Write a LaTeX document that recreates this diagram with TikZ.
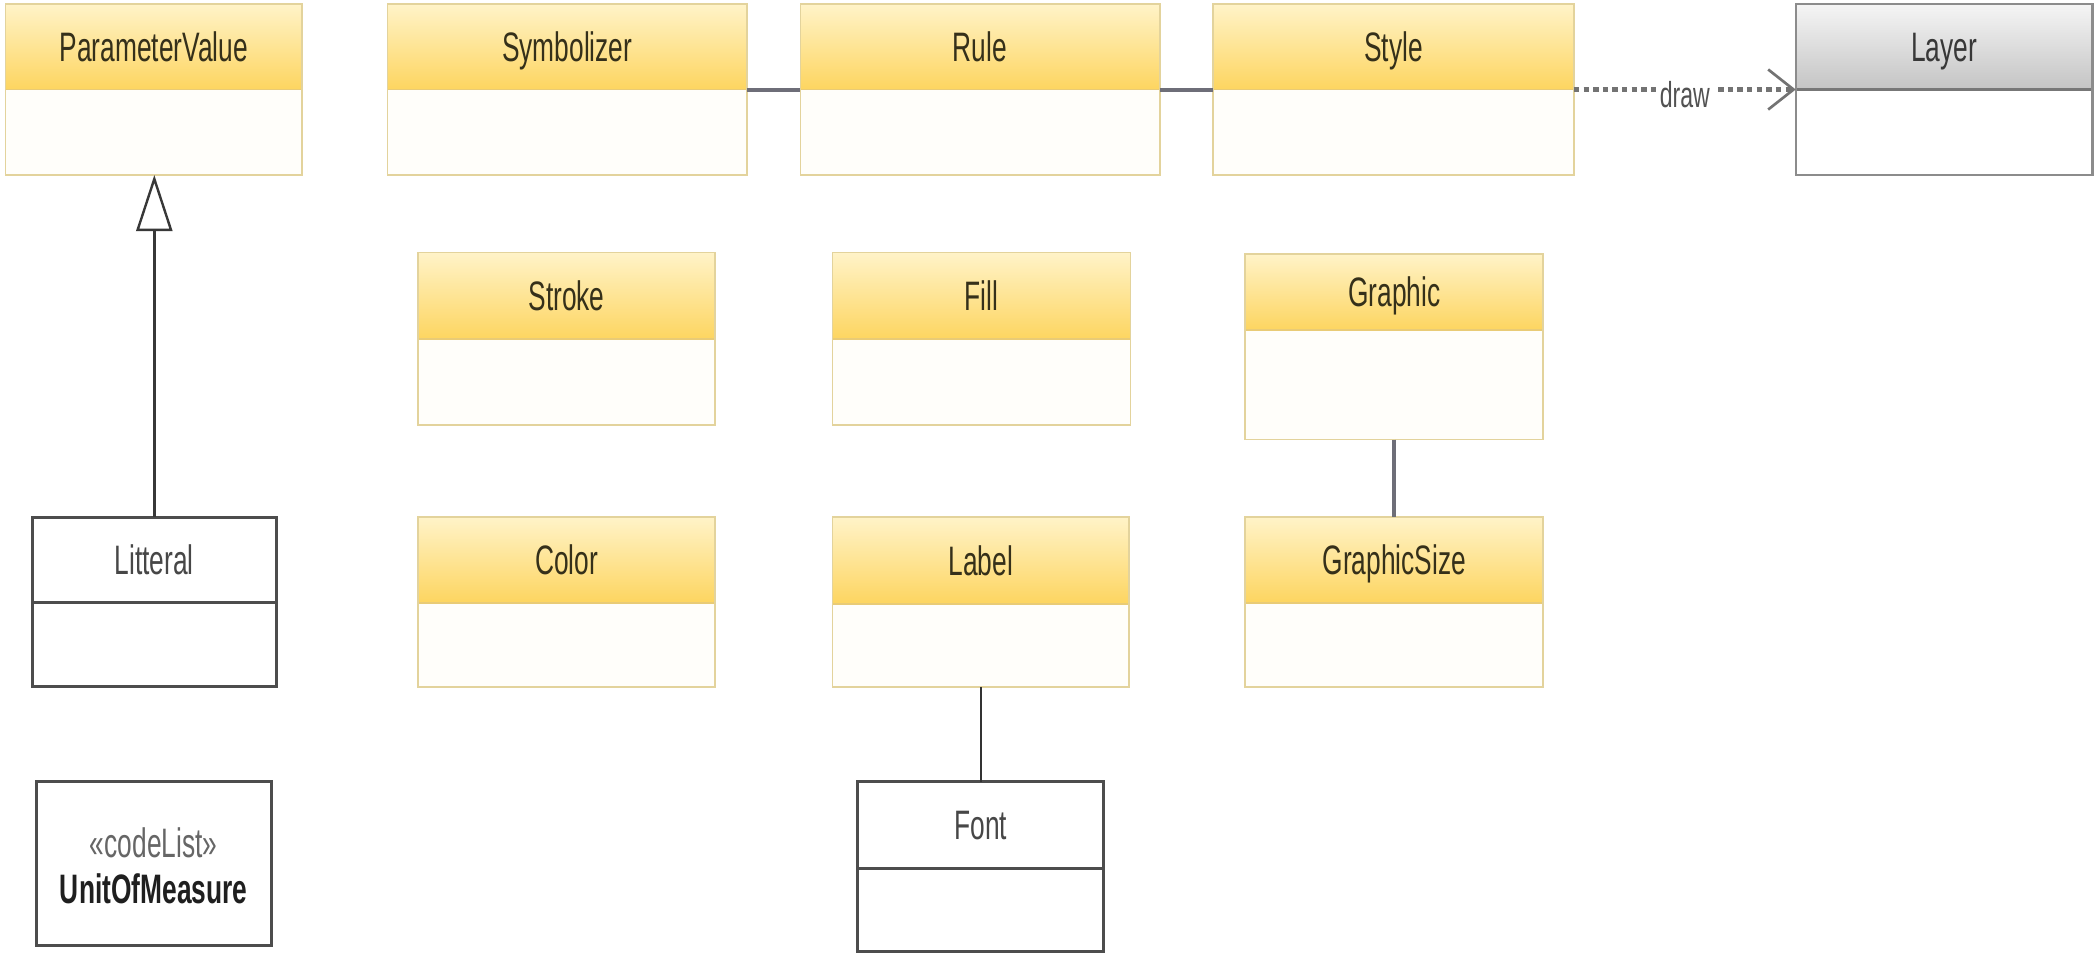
\documentclass[tikz,border=0pt]{standalone}
\usepackage{fontspec}
\setmainfont{Liberation Sans}[FakeStretch=0.64]
\usetikzlibrary{fit,arrows.meta}

\definecolor{yeltop}{HTML}{FFF3C8}
\definecolor{yelbot}{HTML}{FDD560}
\definecolor{yelbody}{HTML}{FFFEFA}
\definecolor{yelframe}{HTML}{E3D39C}
\definecolor{yelrule}{HTML}{E9CB76}
\definecolor{yeltext}{HTML}{35301A}
\definecolor{greytop}{HTML}{F5F5F5}
\definecolor{greybot}{HTML}{C4C4C4}
\definecolor{greyframe}{HTML}{8C8C8C}
\definecolor{plainframe}{HTML}{4D4D4D}
\definecolor{linkgrey}{HTML}{6E6E78}

\tikzset{
  titlefont/.style={font=\fontsize{15.4}{18}\selectfont},
  % yellow classes
  yelhead/.style={top color=yeltop, bottom color=yelbot},
  yelbody/.style={fill=yelbody},
  yelrule/.style={draw=yelrule, line width=0.7pt},
  yelframe/.style={draw=yelframe, line width=0.6pt, inner sep=0pt, outer sep=0pt},
  yeltitle/.style={titlefont, text=yeltext, anchor=base, inner sep=0pt},
  % grey class
  greyhead/.style={top color=greytop, bottom color=greybot},
  greybody/.style={fill=white},
  greyrule/.style={draw=greyframe!85!black, line width=0.8pt},
  greyframe/.style={draw=greyframe, line width=0.9pt, inner sep=0pt, outer sep=0pt},
  greytitle/.style={titlefont, text=black!78, anchor=base, inner sep=0pt},
  % plain classes
  plainhead/.style={fill=white},
  plainbody/.style={fill=white},
  plainrule/.style={draw=plainframe, line width=1.1pt},
  plainframe/.style={draw=plainframe, line width=1.1pt, inner sep=0pt, outer sep=0pt},
  plaintitle/.style={titlefont, text=black!72, anchor=base, inner sep=0pt},
  % connectors
  genline/.style={draw=black!78, line width=0.9pt,
    -{Triangle[open, length=21pt, width=13.5pt, line width=0.9pt]}},
  assoc/.style={draw=linkgrey, line width=1.5pt},
  assocthin/.style={draw=linkgrey, line width=1.3pt},
  assocdark/.style={draw=black!80, line width=0.9pt},
  depline/.style={draw=black!55, line width=1.6pt, dash pattern=on 2pt off 1.6pt,
    -{Straight Barb[length=9.5pt, width=15pt, line width=1pt]}},
  deplabel/.style={font=\fontsize{13.5}{16}\selectfont, text=black!68, fill=white,
    inner sep=1.5pt, yshift=-2pt},
}

% class box: look, node name, left, top, right, bottom, header bottom, title
\newcommand{\umlbox}[8]{%
  \path[#1head] (#3,#4) rectangle (#5,#7);
  \path[#1body] (#3,#7) rectangle (#5,#6);
  \draw[#1rule] (#3,#7) -- (#5,#7);
  \node[#1frame, fit={(#3,#4) (#5,#6)}] (#2) {};
  \node[#1title] at ({(#3+#5)/2},{(#4+#7)/2+11}) {#8};
}

\begin{document}
\begin{tikzpicture}[x=0.5pt, y=-0.5pt]
  \fill[white] (0,0) rectangle (1568,715.6);
  \useasboundingbox (0,0) rectangle (1568,715.6);

  % top row
  \umlbox{yel}{pv}{4}{3}{226}{131}{67}{ParameterValue}
  \umlbox{yel}{sym}{290}{3}{559}{131}{67}{Symbolizer}
  \umlbox{yel}{rulec}{599}{3}{868}{131}{67}{Rule}
  \umlbox{yel}{sty}{908}{3}{1178}{131}{67}{Style}
  \umlbox{grey}{layer}{1344}{3}{1566}{131}{67}{Layer}

  % second row
  \umlbox{yel}{strokec}{313}{189}{535}{318}{254}{Stroke}
  \umlbox{yel}{fillc}{623}{189}{846}{318}{254}{Fill}
  \umlbox{yel}{graphic}{932}{190}{1155}{329}{247}{Graphic}

  % third row
  \umlbox{plain}{lit}{24}{387}{207}{514}{451}{Litteral}
  \umlbox{yel}{colorc}{313}{387}{535}{514}{451}{Color}
  \umlbox{yel}{labelc}{623}{387}{845}{514}{452}{Label}
  \umlbox{yel}{gsize}{932}{387}{1155}{514}{451}{GraphicSize}

  % bottom row
  \umlbox{plain}{fontc}{642}{585}{826}{712}{650}{Font}
  \node[plainframe, fill=white, fit={(27,585) (203,708)}] (uom) {};
  \node[titlefont, text=black!60, anchor=base, inner sep=0pt] (uomstereo)
    at (115,642) {«codeList»};
  \node[titlefont, text=black!88, anchor=base, inner sep=0pt] (uomname)
    at (115,676) {\bfseries UnitOfMeasure};

  % connectors
  \draw[genline] (lit.north) -- (lit.north |- pv.south);
  \draw[assoc] (sym.east) -- (rulec.west);
  \draw[assoc] (rulec.east) -- (sty.west);
  \draw[depline] (sty.east) -- node[deplabel] (drawlbl) {draw} (layer.west);
  \draw[assocthin] (graphic.south) -- (gsize.north);
  \draw[assocdark] (labelc.south) -- (fontc.north);
\end{tikzpicture}
\end{document}
